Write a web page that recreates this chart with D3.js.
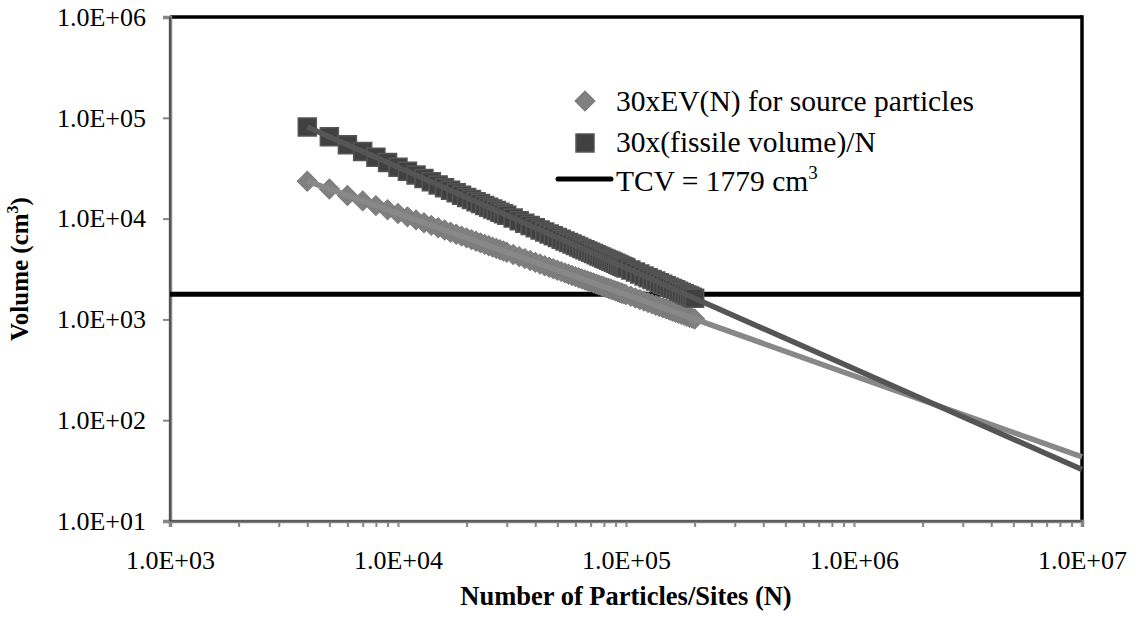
<!DOCTYPE html>
<html>
<head>
<meta charset="utf-8">
<script src="https://cdn.jsdelivr.net/npm/d3@7"></script>
<style>
  html, body { margin: 0; padding: 0; background: #fff; }
  svg { display: block; font-family: "Liberation Serif", "Times New Roman", serif; }
</style>
</head>
<body>
<svg id="chart" width="1139" height="620"></svg>
<script>
// Number of particles / fission sites N
const particleCounts = [
  4000, 5000, 6000, 7000, 8000, 9000, 10000, 11000, 12000, 13000, 14000, 15000,
  16000, 17000, 18000, 19000, 20000, 21000, 22000, 23000, 24000, 25000, 26000,
  27000, 28000, 29000, 30000, 32000, 34000, 36000, 38000, 40000, 42000, 44000,
  46000, 48000, 50000, 52000, 54000, 56000, 58000, 60000, 62000, 64000, 66000,
  68000, 70000, 72000, 74000, 76000, 78000, 80000, 82000, 84000, 86000, 88000,
  90000, 92000, 94000, 96000, 98000, 100000, 105000, 110000, 115000, 120000,
  125000, 130000, 135000, 140000, 145000, 150000, 155000, 160000, 165000,
  170000, 175000, 180000, 185000, 190000, 195000, 200000
];

// 30 x EV(N) for source particles (cm^3)
const evVolume = [
  23500, 19640, 16960, 14980, 13450, 12230, 11240, 10410, 9706, 9100, 8573, 8110,
  7700, 7333, 7003, 6705, 6433, 6186, 5959, 5749, 5555, 5376, 5209,
  5053, 4907, 4771, 4642, 4407, 4197, 4009, 3838, 3682, 3541, 3411,
  3291, 3180, 3077, 2981, 2892, 2809, 2731, 2657, 2588, 2523, 2461,
  2402, 2347, 2294, 2245, 2196, 2151, 2108, 2066, 2027, 1989, 1952,
  1917, 1883, 1851, 1820, 1790, 1761, 1694, 1631, 1574, 1521,
  1472, 1426, 1383, 1344, 1306, 1271, 1238, 1206, 1177,
  1149, 1122, 1097, 1073, 1051, 1029, 1008
];

// 30 x (fissile volume) / N (cm^3)
const fissileVolume = [
  81000, 64800, 54000, 46286, 40500, 36000, 32400, 29455, 27000, 24923, 23143, 21600,
  20250, 19059, 18000, 17053, 16200, 15429, 14727, 14087, 13500, 12960, 12462,
  12000, 11571, 11172, 10800, 10125, 9529, 9000, 8526, 8100, 7714, 7364,
  7043, 6750, 6480, 6231, 6000, 5786, 5586, 5400, 5226, 5063, 4909,
  4765, 4629, 4500, 4378, 4263, 4154, 4050, 3951, 3857, 3767, 3682,
  3600, 3522, 3447, 3375, 3306, 3240, 3086, 2945, 2817, 2700,
  2592, 2492, 2400, 2314, 2234, 2160, 2090, 2025, 1964,
  1906, 1851, 1800, 1751, 1705, 1662, 1620
];

// Power-law trend lines, extended to N = 1E+07
const trendN = [4000, 10000000];
const evTrend = [23500, 43.2];
const fissileTrend = [81000, 32.4];

// Total critical volume
const tcvValue = 1779;

// Axis ticks
const xTickValues = [1e3, 1e4, 1e5, 1e6, 1e7];
const xTickLabels = ["1.0E+03", "1.0E+04", "1.0E+05", "1.0E+06", "1.0E+07"];
const yTickValues = [1e1, 1e2, 1e3, 1e4, 1e5, 1e6];
const yTickLabels = ["1.0E+01", "1.0E+02", "1.0E+03", "1.0E+04", "1.0E+05", "1.0E+06"];

const legendLabels = ["30xEV(N) for source particles", "30x(fissile volume)/N", "TCV = 1779 cm"];

const svg = d3.select("#chart");
const plotLeft = 170, plotRight = 1082, plotTop = 17, plotBottom = 521;

const x = d3.scaleLog().domain([1e3, 1e7]).range([plotLeft, plotRight]);
const y = d3.scaleLog().domain([1e1, 1e6]).range([plotBottom, plotTop]);

const axisGray = "#868686";

// minor x ticks: 2..9 within each decade
const xMinor = [];
for (let d = 0; d < xTickValues.length - 1; d++) {
  for (let m = 2; m <= 9; m++) xMinor.push(xTickValues[d] * m);
}

// plot frame (top and right edges are black)
svg.append("line").attr("x1", plotLeft).attr("x2", plotRight).attr("y1", plotTop).attr("y2", plotTop)
  .attr("stroke", "#000").attr("stroke-width", 3.5);
svg.append("line").attr("x1", plotRight).attr("x2", plotRight).attr("y1", plotTop - 1.75).attr("y2", plotBottom)
  .attr("stroke", "#000").attr("stroke-width", 3.5);

// x axis
const xAxis = d3.axisBottom(x)
  .tickValues(xTickValues.concat(xMinor))
  .tickSize(6)
  .tickPadding(24)
  .tickFormat(v => {
    const i = xTickValues.indexOf(v);
    return i >= 0 ? xTickLabels[i] : "";
  });
const gx = svg.append("g").attr("transform", `translate(0,${plotBottom})`).call(xAxis);

// y axis
const yAxis = d3.axisLeft(y)
  .tickValues(yTickValues)
  .tickSize(7)
  .tickPadding(17)
  .tickFormat(v => yTickLabels[yTickValues.indexOf(v)]);
const gy = svg.append("g").attr("transform", `translate(${plotLeft},0)`).call(yAxis);

[gx, gy].forEach(g => {
  g.attr("font-family", null);
  g.select(".domain").attr("stroke", axisGray).attr("stroke-width", 3.5);
  g.selectAll(".tick line").attr("stroke", axisGray).attr("stroke-width", 2);
  g.selectAll(".tick text")
    .attr("fill", "#000")
    .style("font-family", '"Liberation Serif", "Times New Roman", serif')
    .style("font-size", "26px");
});
// inner dark edge on left/bottom axis lines
svg.append("line").attr("x1", plotLeft).attr("x2", plotRight).attr("y1", plotBottom).attr("y2", plotBottom)
  .attr("stroke", "#333").attr("stroke-width", 1.2);
svg.append("line").attr("x1", plotLeft).attr("x2", plotLeft).attr("y1", plotTop).attr("y2", plotBottom)
  .attr("stroke", "#333").attr("stroke-width", 1.2);

// TCV reference line
svg.append("line")
  .attr("x1", x(1e3)).attr("x2", x(1e7))
  .attr("y1", y(tcvValue)).attr("y2", y(tcvValue))
  .attr("stroke", "#000").attr("stroke-width", 5);

const diamondFill = "#808080";
const squareFill = "#404040";

const diamond = d3.symbol().type(d3.symbolSquare).size(200);
const square = d3.symbol().type(d3.symbolSquare).size(324);

// EV(N) diamonds
svg.append("g").selectAll("path")
  .data(particleCounts.map((n, i) => [n, evVolume[i]]))
  .join("path")
  .attr("d", diamond)
  .attr("transform", d => `translate(${x(d[0])},${y(d[1])}) rotate(45)`)
  .attr("fill", diamondFill)
  .attr("stroke", "#7a7a7a")
  .attr("stroke-width", 1);

// fissile volume squares
svg.append("g").selectAll("path")
  .data(particleCounts.map((n, i) => [n, fissileVolume[i]]))
  .join("path")
  .attr("d", square)
  .attr("transform", d => `translate(${x(d[0])},${y(d[1])})`)
  .attr("fill", squareFill)
  .attr("stroke", "#555555")
  .attr("stroke-width", 1.5);

// trend lines
const line = d3.line().x(d => x(d[0])).y(d => y(d[1]));
svg.append("path")
  .datum(trendN.map((n, i) => [n, evTrend[i]]))
  .attr("d", line)
  .attr("fill", "none").attr("stroke", "#888888").attr("stroke-width", 5.5);
svg.append("path")
  .datum(trendN.map((n, i) => [n, fissileTrend[i]]))
  .attr("d", line)
  .attr("fill", "none").attr("stroke", "#555555").attr("stroke-width", 5.5);

// legend
const legend = svg.append("g");
const lgX = 585, textX = 616;
legend.append("path").attr("d", diamond)
  .attr("transform", `translate(${lgX},101) rotate(45)`)
  .attr("fill", diamondFill).attr("stroke", "#7a7a7a");
legend.append("path").attr("d", square)
  .attr("transform", `translate(${lgX},143)`)
  .attr("fill", squareFill).attr("stroke", "#555555").attr("stroke-width", 1.5);
legend.append("line")
  .attr("x1", 558).attr("x2", 611).attr("y1", 179).attr("y2", 179)
  .attr("stroke", "#000").attr("stroke-width", 5).attr("stroke-linecap", "round");

const legendFont = "29.5px";
legend.append("text").attr("x", textX).attr("y", 111)
  .style("font-size", legendFont).text(legendLabels[0]);
legend.append("text").attr("x", textX).attr("y", 152)
  .style("font-size", legendFont).text(legendLabels[1]);
const tcvText = legend.append("text").attr("x", textX).attr("y", 191)
  .style("font-size", legendFont);
tcvText.append("tspan").text(legendLabels[2]);
tcvText.append("tspan").attr("dy", -12).style("font-size", "19px").text("3");

// axis titles
svg.append("text")
  .attr("x", (plotLeft + plotRight) / 2).attr("y", 605)
  .attr("text-anchor", "middle")
  .style("font-size", "26.5px").style("font-weight", "bold")
  .text("Number of Particles/Sites (N)");

const yTitle = svg.append("text")
  .attr("transform", `translate(28,${(plotTop + plotBottom) / 2}) rotate(-90)`)
  .attr("text-anchor", "middle")
  .style("font-size", "25px").style("font-weight", "bold");
yTitle.append("tspan").text("Volume (cm");
yTitle.append("tspan").attr("dy", -10).style("font-size", "16px").text("3");
yTitle.append("tspan").attr("dy", 10).text(")");
</script>
</body>
</html>
